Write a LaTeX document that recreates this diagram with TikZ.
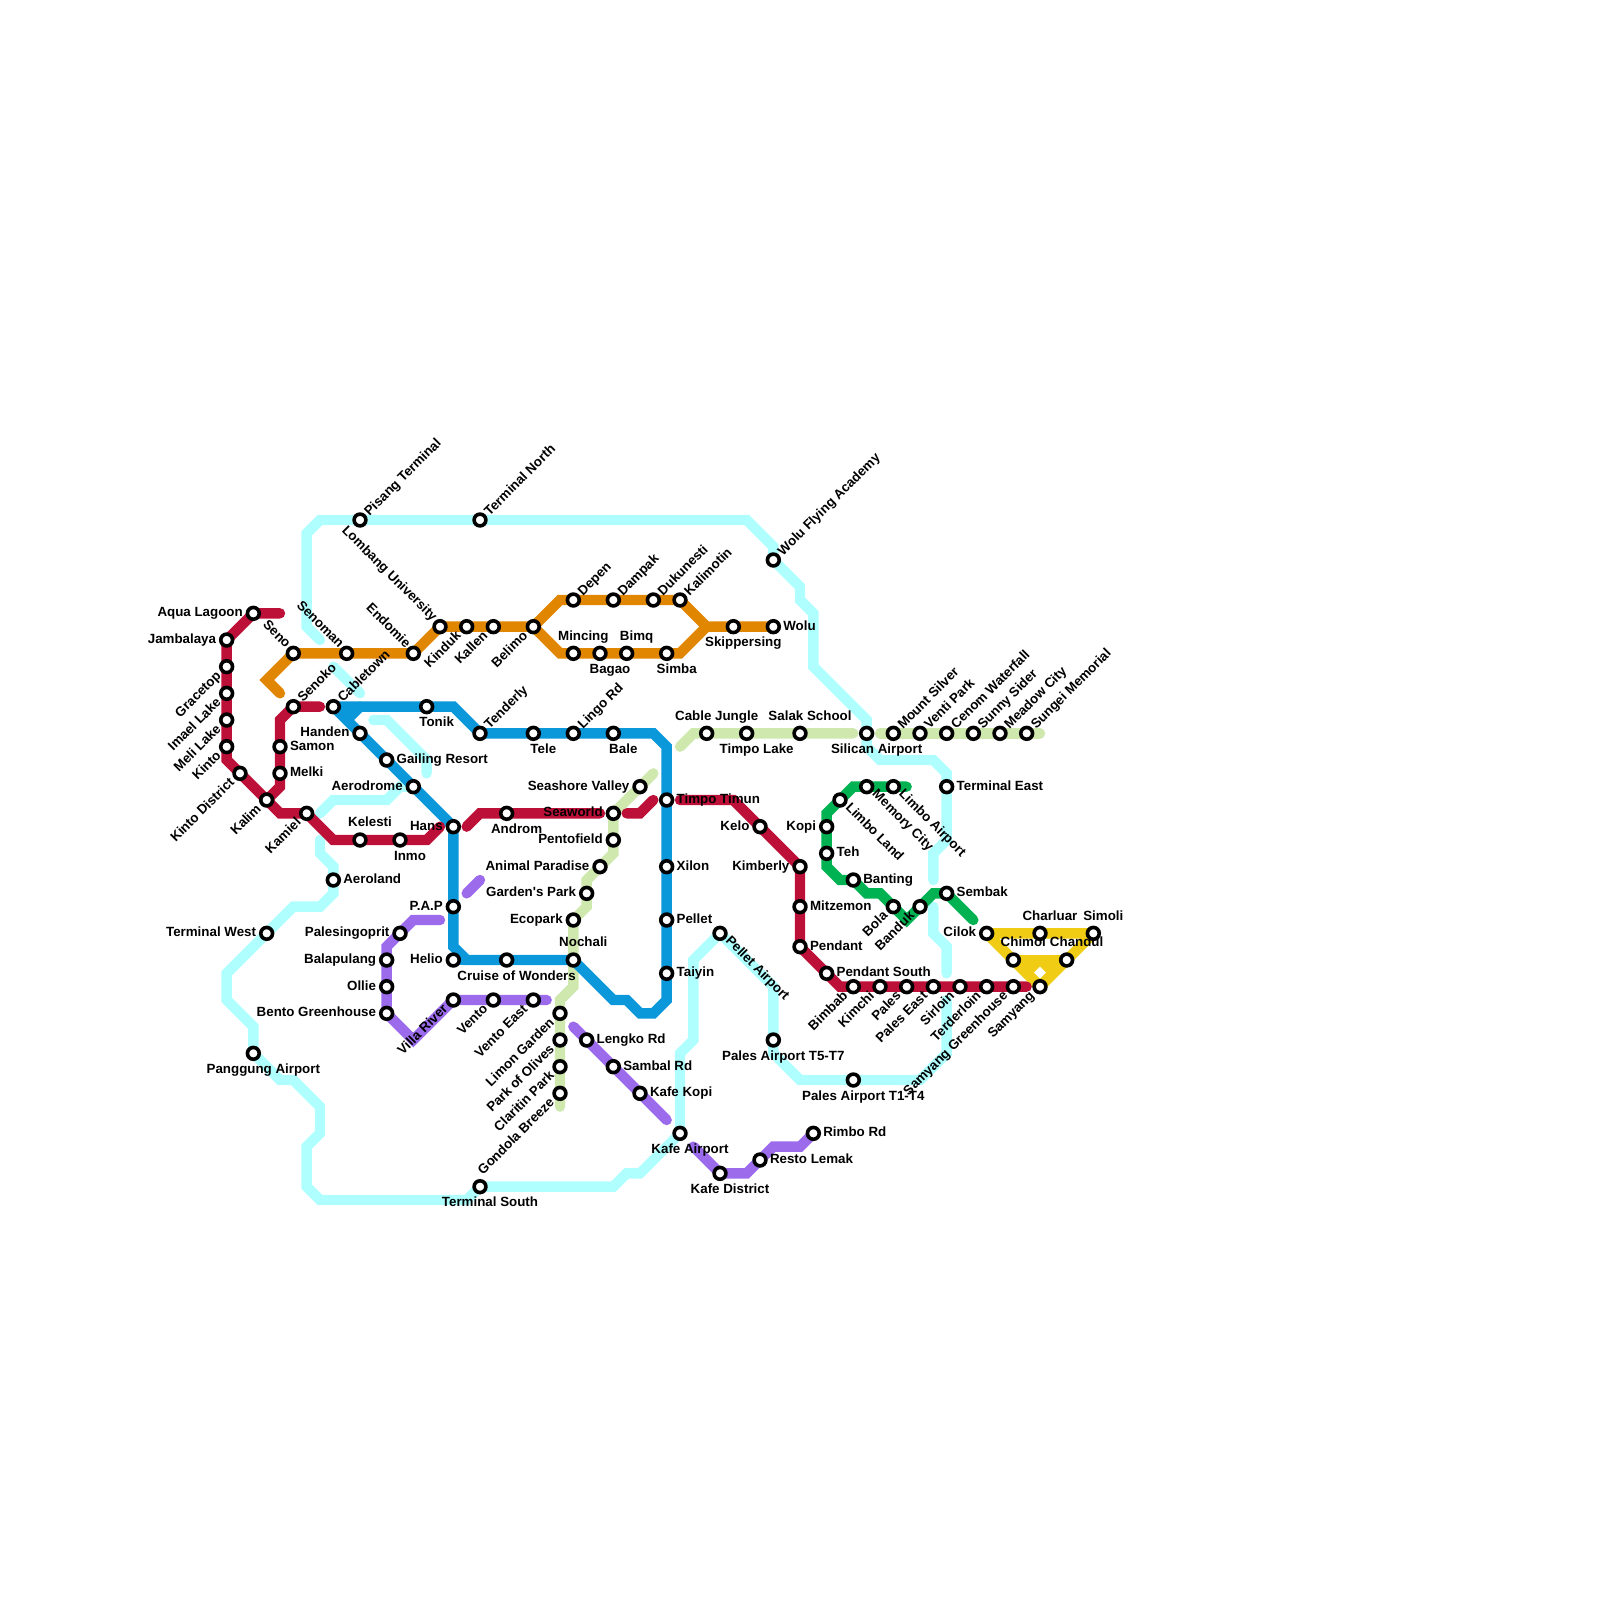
\documentclass[tikz,border=0pt]{standalone}
\usepackage{fontspec}
\setmainfont{Liberation Sans}[Ligatures=TeXOff]
\usetikzlibrary{backgrounds}
\definecolor{Aqua}{HTML}{B0FFFF}
\definecolor{Sky}{HTML}{0A98DA}
\definecolor{Crimson}{HTML}{BD1038}
\definecolor{Amber}{HTML}{E08600}
\definecolor{Pistachio}{HTML}{CFE8AE}
\definecolor{Violet}{HTML}{9B6BEB}
\definecolor{Emerald}{HTML}{00B251}
\definecolor{Canary}{HTML}{F0CC14}
\tikzset{
 metro/.style={line width=5.2pt, line cap=round, line join=miter},
 aqualine/.style={metro, draw=Aqua},
 skyline/.style={metro, draw=Sky},
 redline/.style={metro, draw=Crimson},
 amberline/.style={metro, draw=Amber},
 pistaline/.style={metro, draw=Pistachio},
 violetline/.style={metro, draw=Violet},
 emeraldline/.style={metro, draw=Emerald},
 canaryline/.style={metro, draw=Canary, line join=round},
 station/.style={circle, draw=black, fill=white, line width=1.8pt, minimum size=5.9pt, inner sep=0pt, outer sep=0pt},
 lab/.style={inner sep=0pt, outer sep=0pt, font=\fontsize{6.67}{8}\selectfont\bfseries},
 tright/.style={lab, anchor=base west, xshift=5pt, yshift=-1.7pt},
 tleft/.style={lab, anchor=base east, xshift=-5.3pt, yshift=-1.7pt},
 tabove/.style={lab, anchor=base, xshift=5pt, yshift=6.67pt},
 tbelow/.style={lab, anchor=base, xshift=5pt, yshift=-10pt},
 tne/.style={lab, xshift=4.85pt, yshift=1.85pt, rotate=45, anchor=base west},
 tse/.style={lab, xshift=2.5pt, yshift=-4.15pt, rotate=-45, anchor=base west},
 tnw/.style={lab, xshift=-4pt, yshift=2.4pt, rotate=-45, anchor=base east},
 tsw/.style={lab, xshift=-2.5pt, yshift=-5pt, rotate=45, anchor=base east}
}
\begin{document}
\begin{tikzpicture}[x=6.6667pt,y=-6.6667pt]
\useasboundingbox (0,0) rectangle (120,120);
\node[station] (aqualagoon) at (19,46) {};\node[tleft] (aqualagoont) at (aqualagoon) {Aqua Lagoon};
\node[station] (jambalaya) at (17,48) {};\node[tleft] (jambalayat) at (jambalaya) {Jambalaya};
\node[station] (gracetop) at (17,50) {};\node[tsw] (gracetopt) at (gracetop) {Gracetop};
\node[station] (imael) at (17,52) {};\node[tsw] (imaelt) at (imael) {Imael Lake};
\node[station] (meli) at (17,54) {};\node[tsw] (melit) at (meli) {Meli Lake};
\node[station] (kinto) at (17,56) {};\node[tsw] (kintot) at (kinto) {Kinto};
\node[station] (kintodist) at (18,58) {};\node[tsw] (kintodistt) at (kintodist) {Kinto District};
\node[station] (kalim) at (20,60) {};\node[tsw] (kalimt) at (kalim) {Kalim};
\node[station] (kamiel) at (23,61) {};\node[tsw] (kamielt) at (kamiel) {Kamiel};
\node[station] (kelesti) at (27,63) {};\node[tabove] (kelestit) at (kelesti) {Kelesti};
\node[station] (inmo) at (30,63) {};\node[tbelow] (inmot) at (inmo) {Inmo};
\node[station] (hans) at (34,62) {};\node[tleft] (hanst) at (hans) {Hans};
\node[station] (androm) at (38,61) {};\node[tbelow] (andromt) at (androm) {Androm};
\node[station] (seaworld) at (46,61) {};\node[tleft] (seaworldt) at (seaworld) {Seaworld};
\node[station] (timpotimun) at (50,60) {};\node[tright] (timpotimunt) at (timpotimun) {Timpo Timun};
\node[station] (kelo) at (57,62) {};\node[tleft] (kelot) at (kelo) {Kelo};
\node[station] (kimberly) at (60,65) {};\node[tleft] (kimberlyt) at (kimberly) {Kimberly};
\node[station] (mitzemon) at (60,68) {};\node[tright] (mitzemont) at (mitzemon) {Mitzemon};
\node[station] (pendant) at (60,71) {};\node[tright] (pendantt) at (pendant) {Pendant};
\node[station] (pendantsouth) at (62,73) {};\node[tright] (pendantsoutht) at (pendantsouth) {Pendant South};
\node[station] (bimbab) at (64,74) {};\node[tsw] (bimbabt) at (bimbab) {Bimbab};
\node[station] (kimchi) at (66,74) {};\node[tsw] (kimchit) at (kimchi) {Kimchi};
\node[station] (pales) at (68,74) {};\node[tsw] (palest) at (pales) {Pales};
\node[station] (paleseast) at (70,74) {};\node[tsw] (paleseastt) at (paleseast) {Pales East};
\node[station] (sirloin) at (72,74) {};\node[tsw] (sirloint) at (sirloin) {Sirloin};
\node[station] (terderloin) at (74,74) {};\node[tsw] (terderloint) at (terderloin) {Terderloin};
\node[station] (samyanggreen) at (76,74) {};\node[tsw] (samyanggreent) at (samyanggreen) {Samyang Greenhouse};
\node[station] (samyang) at (78,74) {};\node[tsw] (samyangt) at (samyang) {Samyang};
\node[station] (senoko) at (22,53) {};\node[tne] (senokot) at (senoko) {Senoko};
\node[station] (samon) at (21,56) {};\node[tright] (samont) at (samon) {Samon};
\node[station] (melki) at (21,58) {};\node[tright] (melkit) at (melki) {Melki};
\node[station] (seno) at (22,49) {};\node[tnw] (senot) at (seno) {Seno};
\node[station] (senoman) at (26,49) {};\node[tnw] (senomant) at (senoman) {Senoman};
\node[station] (endomie) at (31,49) {};\node[tnw] (endomiet) at (endomie) {Endomie};
\node[station] (lombang) at (33,47) {};\node[tnw] (lombangt) at (lombang) {Lombang University};
\node[station] (kinduk) at (35,47) {};\node[tsw] (kinduktx) at (kinduk) {Kinduk};
\node[station] (kallen) at (37,47) {};\node[tsw] (kallent) at (kallen) {Kallen};
\node[station] (belimo) at (40,47) {};\node[tsw] (belimot) at (belimo) {Belimo};
\node[station] (depen) at (43,45) {};\node[tne] (depent) at (depen) {Depen};
\node[station] (dampak) at (46,45) {};\node[tne] (dampakt) at (dampak) {Dampak};
\node[station] (dukunesti) at (49,45) {};\node[tne] (dukunestit) at (dukunesti) {Dukunesti};
\node[station] (kalimotin) at (51,45) {};\node[tne] (kalimotint) at (kalimotin) {Kalimotin};
\node[station] (mincing) at (43,49) {};\node[tabove] (mincingt) at (mincing) {Mincing};
\node[station] (bagao) at (45,49) {};\node[tbelow] (bagaot) at (bagao) {Bagao};
\node[station] (bimq) at (47,49) {};\node[tabove] (bimqt) at (bimq) {Bimq};
\node[station] (simba) at (50,49) {};\node[tbelow] (simbat) at (simba) {Simba};
\node[station] (skippersing) at (55,47) {};\node[tbelow] (skippersingt) at (skippersing) {Skippersing};
\node[station] (wolu) at (58,47) {};\node[tright] (wolut) at (wolu) {Wolu};
\node[station] (cabletown) at (25,53) {};\node[tne] (cabletownt) at (cabletown) {Cabletown};
\node[station] (handen) at (27,55) {};\node[tleft] (handent) at (handen) {Handen};
\node[station] (gailing) at (29,57) {};\node[tright] (gailingt) at (gailing) {Gailing Resort};
\node[station] (aerodrome) at (31,59) {};\node[tleft] (aerodromet) at (aerodrome) {Aerodrome};
\node[station] (pap) at (34,68) {};\node[tleft] (papt) at (pap) {P.A.P};
\node[station] (helio) at (34,72) {};\node[tleft] (heliot) at (helio) {Helio};
\node[station] (cruise) at (38,72) {};\node[tbelow] (cruiset) at (cruise) {Cruise of Wonders};
\node[station] (nochali) at (43,72) {};\node[tabove] (nochalit) at (nochali) {Nochali};
\node[station] (tonik) at (32,53) {};\node[tbelow] (tonikt) at (tonik) {Tonik};
\node[station] (tenderly) at (36,55) {};\node[tne] (tenderlyt) at (tenderly) {Tenderly};
\node[station] (tele) at (40,55) {};\node[tbelow] (telet) at (tele) {Tele};
\node[station] (lingo) at (43,55) {};\node[tne] (lingot) at (lingo) {Lingo Rd};
\node[station] (bale) at (46,55) {};\node[tbelow] (balet) at (bale) {Bale};
\node[station] (xilon) at (50,65) {};\node[tright] (xilont) at (xilon) {Xilon};
\node[station] (pellet) at (50,69) {};\node[tright] (pellett) at (pellet) {Pellet};
\node[station] (taiyin) at (50,73) {};\node[tright] (taiyint) at (taiyin) {Taiyin};
\node[station] (pisang) at (27,39) {};\node[tne] (pisangt) at (pisang) {Pisang Terminal};
\node[station] (termnorth) at (36,39) {};\node[tne] (termnortht) at (termnorth) {Terminal North};
\node[station] (woluflying) at (58,42) {};\node[tne] (woluflyingt) at (woluflying) {Wolu Flying Academy};
\node[station] (silican) at (65,55) {};\node[tbelow] (silicant) at (silican) {Silican Airport};
\node[station] (termeast) at (71,59) {};\node[tright] (termeastt) at (termeast) {Terminal East};
\node[station] (aeroland) at (25,66) {};\node[tright] (aerolandt) at (aeroland) {Aeroland};
\node[station] (termwest) at (20,70) {};\node[tleft] (termwestt) at (termwest) {Terminal West};
\node[station] (panggung) at (19,79) {};\node[tbelow] (panggungt) at (panggung) {Panggung Airport};
\node[station] (termsouth) at (36,89) {};\node[tbelow] (termsoutht) at (termsouth) {Terminal South};
\node[station] (pelletair) at (54,70) {};\node[tse] (pelletairt) at (pelletair) {Pellet Airport};
\node[station] (palesfive) at (58,78) {};\node[tbelow] (palesfivet) at (palesfive) {Pales Airport T5-T7};
\node[station] (palesone) at (64,81) {};\node[tbelow] (palesonet) at (palesone) {Pales Airport T1-T4};
\node[station] (kafeair) at (51,85) {};\node[tbelow] (kafeairt) at (kafeair) {Kafe Airport};
\node[station] (cablejungle) at (53,55) {};\node[tabove] (cablejunglet) at (cablejungle) {Cable Jungle};
\node[station] (timpolake) at (56,55) {};\node[tbelow] (timpolaket) at (timpolake) {Timpo Lake};
\node[station] (salak) at (60,55) {};\node[tabove] (salakt) at (salak) {Salak School};
\node[station] (mountsilver) at (67,55) {};\node[tne] (mountsilvert) at (mountsilver) {Mount Silver};
\node[station] (ventipark) at (69,55) {};\node[tne] (ventiparkt) at (ventipark) {Venti Park};
\node[station] (cenom) at (71,55) {};\node[tne] (cenomt) at (cenom) {Cenom Waterfall};
\node[station] (sunnysider) at (73,55) {};\node[tne] (sunnysidert) at (sunnysider) {Sunny Sider};
\node[station] (meadow) at (75,55) {};\node[tne] (meadowt) at (meadow) {Meadow City};
\node[station] (sungei) at (77,55) {};\node[tne] (sungeit) at (sungei) {Sungei Memorial};
\node[station] (seashore) at (48,59) {};\node[tleft] (seashoret) at (seashore) {Seashore Valley};
\node[station] (pentofield) at (46,63) {};\node[tleft] (pentofieldt) at (pentofield) {Pentofield};
\node[station] (animal) at (45,65) {};\node[tleft] (animalt) at (animal) {Animal Paradise};
\node[station] (gardens) at (44,67) {};\node[tleft] (gardenst) at (gardens) {Garden's Park};
\node[station] (ecopark) at (43,69) {};\node[tleft] (ecoparkt) at (ecopark) {Ecopark};
\node[station] (limon) at (42,76) {};\node[tsw] (limont) at (limon) {Limon Garden};
\node[station] (olives) at (42,78) {};\node[tsw] (olivest) at (olives) {Park of Olives};
\node[station] (claritin) at (42,80) {};\node[tsw] (claritint) at (claritin) {Claritin Park};
\node[station] (gondola) at (42,82) {};\node[tsw] (gondolat) at (gondola) {Gondola Breeze};
\node[station] (palesingo) at (30,70) {};\node[tleft] (palesingot) at (palesingo) {Palesingoprit};
\node[station] (balapulang) at (29,72) {};\node[tleft] (balapulangt) at (balapulang) {Balapulang};
\node[station] (ollie) at (29,74) {};\node[tleft] (olliet) at (ollie) {Ollie};
\node[station] (bento) at (29,76) {};\node[tleft] (bentot) at (bento) {Bento Greenhouse};
\node[station] (villa) at (34,75) {};\node[tsw] (villat) at (villa) {Villa River};
\node[station] (vento) at (37,75) {};\node[tsw] (ventot) at (vento) {Vento};
\node[station] (ventoeast) at (40,75) {};\node[tsw] (ventoeastt) at (ventoeast) {Vento East};
\node[station] (lengko) at (44,78) {};\node[tright] (lengkot) at (lengko) {Lengko Rd};
\node[station] (sambal) at (46,80) {};\node[tright] (sambalt) at (sambal) {Sambal Rd};
\node[station] (kafekopi) at (48,82) {};\node[tright] (kafekopit) at (kafekopi) {Kafe Kopi};
\node[station] (kafedist) at (54,88) {};\node[tbelow] (kafedistt) at (kafedist) {Kafe District};
\node[station] (resto) at (57,87) {};\node[tright] (restot) at (resto) {Resto Lemak};
\node[station] (rimbo) at (61,85) {};\node[tright] (rimbot) at (rimbo) {Rimbo Rd};
\node[station] (limboair) at (67,59) {};\node[tse] (limboairt) at (limboair) {Limbo Airport};
\node[station] (memory) at (65,59) {};\node[tse] (memoryt) at (memory) {Memory City};
\node[station] (limboland) at (63,60) {};\node[tse] (limbolandt) at (limboland) {Limbo Land};
\node[station] (kopi) at (62,62) {};\node[tleft] (kopit) at (kopi) {Kopi};
\node[station] (teh) at (62,64) {};\node[tright] (teht) at (teh) {Teh};
\node[station] (banting) at (64,66) {};\node[tright] (bantingt) at (banting) {Banting};
\node[station] (bola) at (67,68) {};\node[tsw] (bolat) at (bola) {Bola};
\node[station] (banduk) at (69,68) {};\node[tsw] (banduktx) at (banduk) {Banduk};
\node[station] (sembak) at (71,67) {};\node[tright] (sembakt) at (sembak) {Sembak};
\node[station] (cilok) at (74,70) {};\node[tleft] (cilokt) at (cilok) {Cilok};
\node[station] (charluar) at (78,70) {};\node[tabove] (charluart) at (charluar) {Charluar};
\node[station] (simoli) at (82,70) {};\node[tabove] (simolit) at (simoli) {Simoli};
\node[station] (chimoi) at (76,72) {};\node[tabove] (chimoit) at (chimoi) {Chimoi};
\node[station] (chandul) at (80,72) {};\node[tabove] (chandult) at (chandul) {Chandul};
\begin{scope}[on background layer]
\draw[aqualine] (24,48)--(23,47)--(23,40)--(24,39)--(pisang.center)--(termnorth.center)--(56,39)--(58,41)--(woluflying.center)--(60,44)--(60,45)--(61,46)--(61,50)--(65,54)--(silican.center)--(65,56)--(66,57)--(70,57)--(71,58)--(termeast.center)--(71,63)--(70,64)--(70,66);
\draw[aqualine] (70,68)--(70,70)--(71,71)--(71,73);
\draw[aqualine] (71,75)--(71,79)--(69,81)--(palesone.center)--(60,81)--(58,79)--(palesfive.center)--(58,74)--(pelletair.center)--(52,72)--(52,78)--(51,79)--(kafeair.center)--(48,88)--(47,88)--(46,89)--(termsouth.center)--(35,90)--(24,90)--(23,89)--(23,86)--(24,85)--(24,83)--(22,81)--(21,81)--(panggung.center)--(19,77)--(17,75)--(17,73)--(termwest.center)--(22,68)--(24,68)--(25,67)--(aeroland.center)--(25,65)--(24,64)--(24,63);
\draw[aqualine] (24,61)--(25,60)--(29,60)--(30,59)--(aerodrome.center);
\draw[aqualine] (25,50)--(27,52);\draw[aqualine] (28,54)--(29,54)--(32,57)--(32,58);
\draw[pistaline] (51,56)--(52,55)--(cablejungle.center)--(timpolake.center)--(salak.center)--(64,55);
\draw[pistaline] (66,55)--(mountsilver.center)--(ventipark.center)--(cenom.center)--(sunnysider.center)--(meadow.center)--(sungei.center)--(78,55);
\draw[pistaline] (49,58)--(seashore.center)--(seaworld.center)--(pentofield.center)--(46,64)--(animal.center)--(44,66)--(gardens.center)--(44,68)--(ecopark.center)--(nochali.center)--(43,74)--(42,75)--(limon.center)--(olives.center)--(claritin.center)--(gondola.center)--(42,83);
\fill[Canary] (chimoi.center)--(chandul.center)--(samyang.center)--cycle;
\fill[white] (78,72.5)--(78.45,72.95)--(78,73.4)--(77.55,72.95)--cycle;
\draw[canaryline] (cilok.center)--(charluar.center)--(simoli.center)--(chandul.center)--(samyang.center)--(chimoi.center)--cycle;
\draw[canaryline] (chimoi.center)--(chandul.center);
\draw[amberline] (21,52)--(20,51)--(seno.center)--(senoman.center)--(endomie.center)--(lombang.center)--(kinduk.center)--(kallen.center)--(belimo.center)--(42,45)--(depen.center)--(dampak.center)--(dukunesti.center)--(kalimotin.center)--(53,47)--(skippersing.center)--(wolu.center);
\draw[amberline] (belimo.center)--(42,49)--(mincing.center)--(bagao.center)--(bimq.center)--(simba.center)--(51,49)--(53,47);
\draw[violetline] (35,67)--(36,66);
\draw[violetline] (33,69)--(31,69)--(palesingo.center)--(29,71)--(balapulang.center)--(ollie.center)--(bento.center)--(31,78)--(villa.center)--(vento.center)--(ventoeast.center)--(41,75);
\draw[violetline] (43,77)--(lengko.center)--(sambal.center)--(kafekopi.center)--(50,84);
\draw[violetline] (52,86)--(kafedist.center)--(56,88)--(resto.center)--(58,86)--(60,86)--(rimbo.center);
\fill[Sky] (cabletown.center)--(27,53)--(26,54)--cycle;
\draw[skyline] (cabletown.center)--(tonik.center)--(34,53)--(tenderly.center)--(tele.center)--(lingo.center)--(bale.center)--(49,55)--(50,56)--(timpotimun.center)--(xilon.center)--(pellet.center)--(taiyin.center)--(50,75)--(49,76)--(48,76)--(47,75)--(46,75)--(nochali.center)--(cruise.center)--(35,72)--(34,71)--(pap.center)--(hans.center)--(aerodrome.center)--(gailing.center)--(handen.center)--(cabletown.center);
\draw[skyline] (26,54)--(27,53);\draw[skyline] (35,72)--(helio.center);
\draw[emeraldline] (68,59)--(limboair.center)--(memory.center)--(64,59)--(limboland.center)--(62,61)--(kopi.center)--(teh.center)--(62,65)--(63,66)--(banting.center)--(65,67)--(66,67)--(bola.center)--(68,69)--(banduk.center)--(70,67)--(sembak.center)--(73,69);
\draw[redline] (21,46)--(aqualagoon.center)--(jambalaya.center)--(gracetop.center)--(imael.center)--(meli.center)--(kinto.center)--(17,57)--(kintodist.center)--(kalim.center)--(21,61)--(kamiel.center)--(25,63)--(kelesti.center)--(inmo.center)--(32,63)--(33,62);
\draw[redline] (35,62)--(36,61)--(androm.center)--(45,61);
\draw[redline] (47,61)--(48,61)--(49,60);
\draw[redline] (51,60)--(55,60)--(kelo.center)--(kimberly.center)--(mitzemon.center)--(pendant.center)--(pendantsouth.center)--(63,74)--(bimbab.center)--(kimchi.center)--(pales.center)--(paleseast.center)--(sirloin.center)--(terderloin.center)--(samyanggreen.center)--(77,74);
\draw[redline] (24,53)--(senoko.center)--(21,54)--(samon.center)--(melki.center)--(21,59)--(kalim.center);
\end{scope}
\end{tikzpicture}
\end{document}
